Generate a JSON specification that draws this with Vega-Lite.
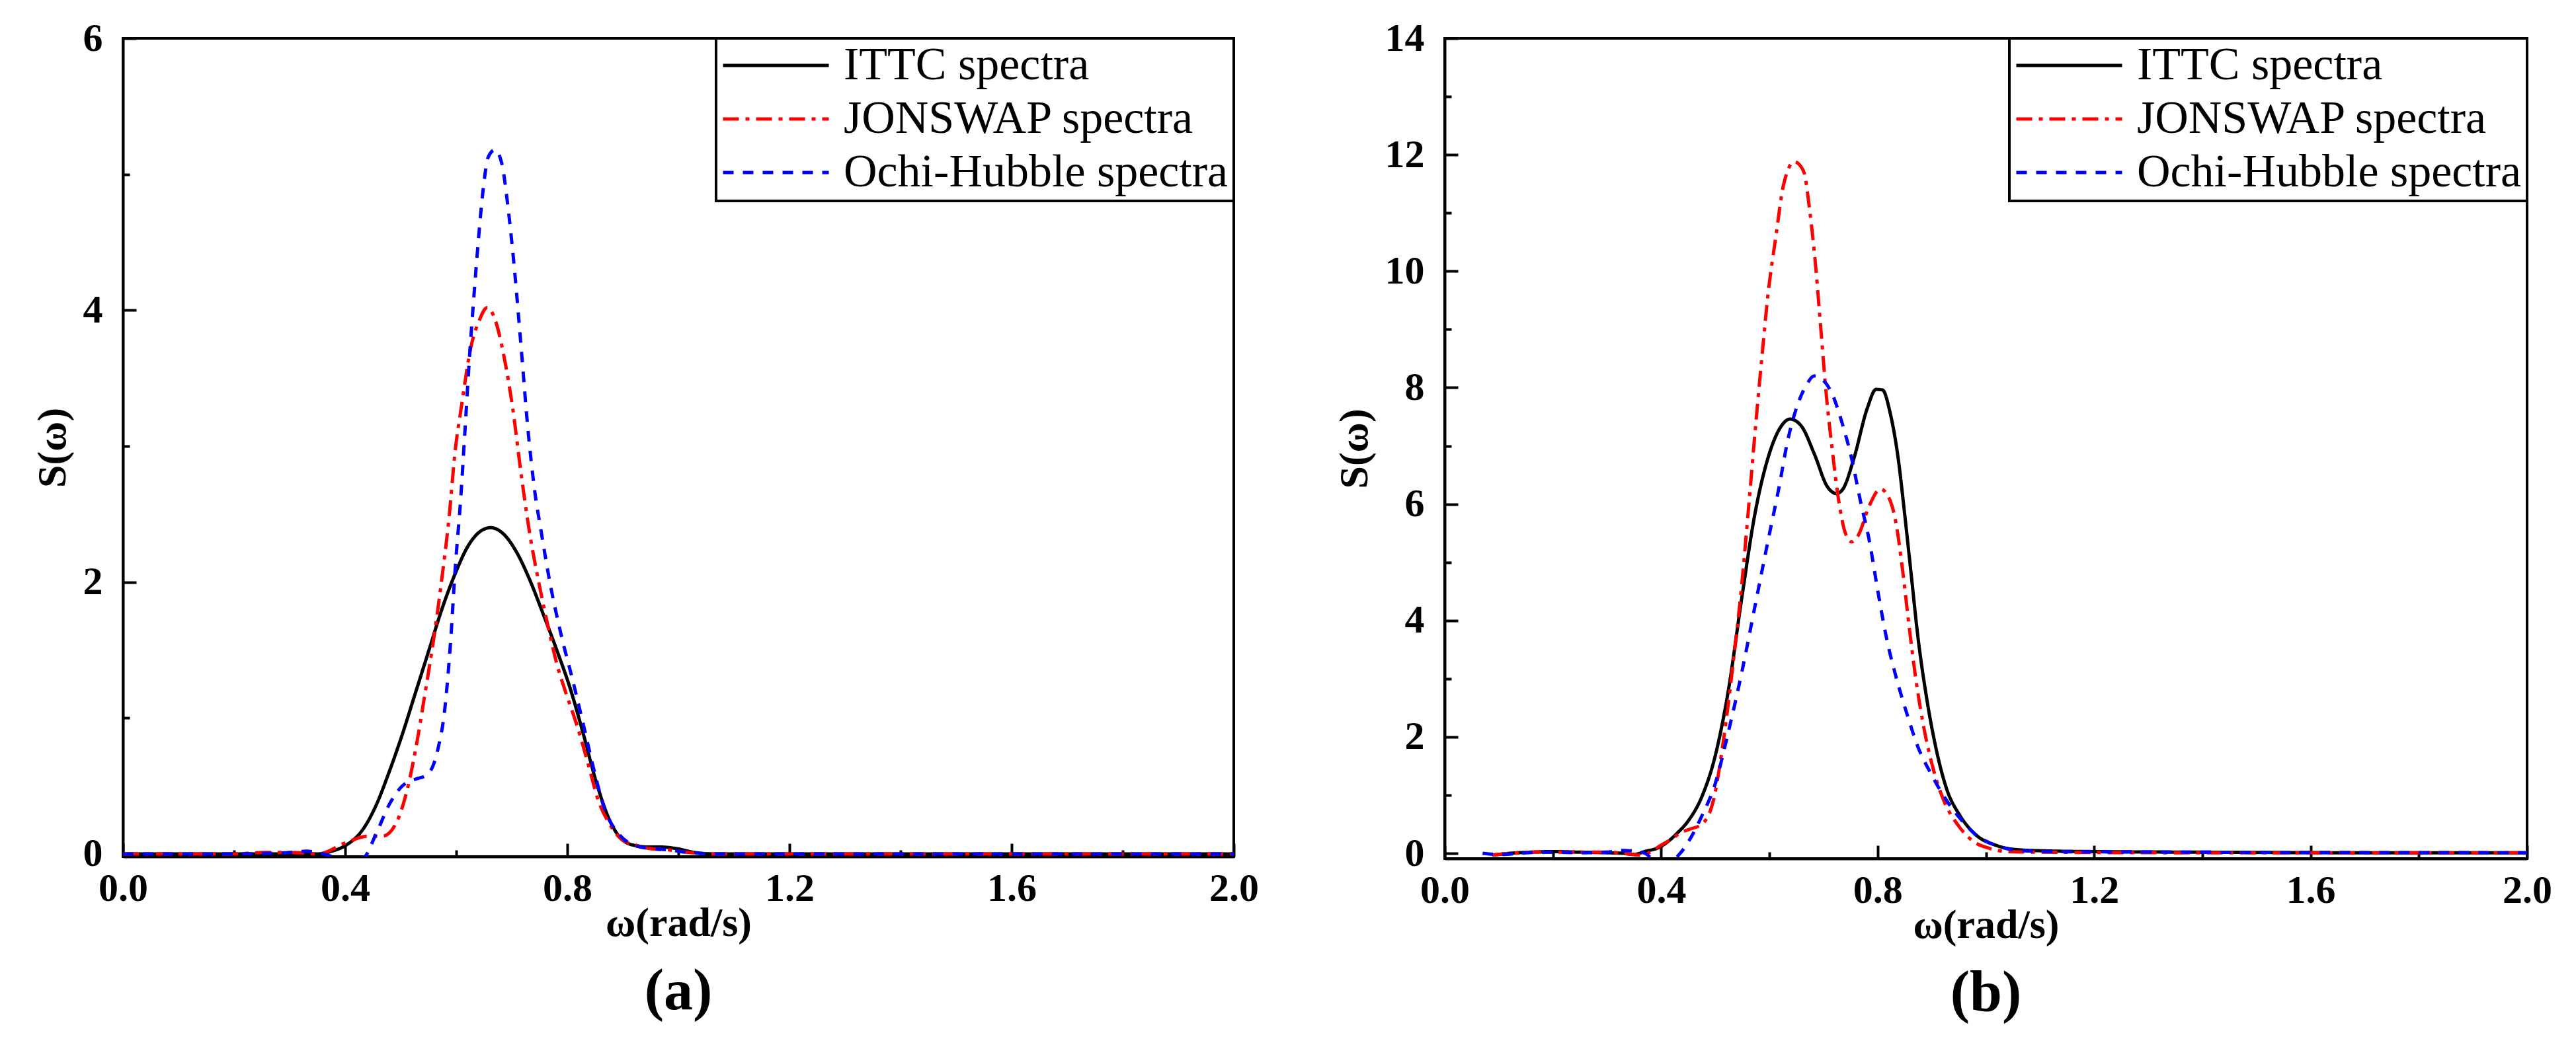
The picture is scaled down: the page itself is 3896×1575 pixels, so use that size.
{
  "$schema": "https://vega.github.io/schema/vega-lite/v6.json",
  "background": "white",
  "padding": {"left": 46, "top": 26, "right": 0, "bottom": 0},
  "spacing": 109,
  "resolve": {"scale": {"color": "independent", "strokeDash": "independent"}, "legend": {"color": "independent", "strokeDash": "independent"}},
  "datasets": {
    "a": [
      {"omega": 0, "S": 0, "series": "ITTC spectra"},
      {"omega": 0.1, "S": 0, "series": "ITTC spectra"},
      {"omega": 0.2, "S": 0, "series": "ITTC spectra"},
      {"omega": 0.3, "S": 0, "series": "ITTC spectra"},
      {"omega": 0.352, "S": 0, "series": "ITTC spectra"},
      {"omega": 0.376, "S": 0.02, "series": "ITTC spectra"},
      {"omega": 0.4, "S": 0.06, "series": "ITTC spectra"},
      {"omega": 0.432, "S": 0.18, "series": "ITTC spectra"},
      {"omega": 0.456, "S": 0.36, "series": "ITTC spectra"},
      {"omega": 0.479, "S": 0.6, "series": "ITTC spectra"},
      {"omega": 0.503, "S": 0.88, "series": "ITTC spectra"},
      {"omega": 0.527, "S": 1.19, "series": "ITTC spectra"},
      {"omega": 0.551, "S": 1.5, "series": "ITTC spectra"},
      {"omega": 0.575, "S": 1.81, "series": "ITTC spectra"},
      {"omega": 0.598, "S": 2.06, "series": "ITTC spectra"},
      {"omega": 0.622, "S": 2.27, "series": "ITTC spectra"},
      {"omega": 0.646, "S": 2.38, "series": "ITTC spectra"},
      {"omega": 0.662, "S": 2.4, "series": "ITTC spectra"},
      {"omega": 0.686, "S": 2.35, "series": "ITTC spectra"},
      {"omega": 0.71, "S": 2.21, "series": "ITTC spectra"},
      {"omega": 0.733, "S": 2.01, "series": "ITTC spectra"},
      {"omega": 0.757, "S": 1.76, "series": "ITTC spectra"},
      {"omega": 0.781, "S": 1.5, "series": "ITTC spectra"},
      {"omega": 0.805, "S": 1.22, "series": "ITTC spectra"},
      {"omega": 0.829, "S": 0.88, "series": "ITTC spectra"},
      {"omega": 0.852, "S": 0.53, "series": "ITTC spectra"},
      {"omega": 0.876, "S": 0.25, "series": "ITTC spectra"},
      {"omega": 0.9, "S": 0.1, "series": "ITTC spectra"},
      {"omega": 0.924, "S": 0.06, "series": "ITTC spectra"},
      {"omega": 0.948, "S": 0.05, "series": "ITTC spectra"},
      {"omega": 0.97, "S": 0.05, "series": "ITTC spectra"},
      {"omega": 0.995, "S": 0.04, "series": "ITTC spectra"},
      {"omega": 1.03, "S": 0.01, "series": "ITTC spectra"},
      {"omega": 1.06, "S": 0, "series": "ITTC spectra"},
      {"omega": 1.5, "S": 0, "series": "ITTC spectra"},
      {"omega": 2.0, "S": 0, "series": "ITTC spectra"},
      {"omega": 0, "S": 0, "series": "JONSWAP spectra"},
      {"omega": 0.1, "S": 0, "series": "JONSWAP spectra"},
      {"omega": 0.2, "S": 0, "series": "JONSWAP spectra"},
      {"omega": 0.25, "S": 0.01, "series": "JONSWAP spectra"},
      {"omega": 0.3, "S": 0.01, "series": "JONSWAP spectra"},
      {"omega": 0.352, "S": 0, "series": "JONSWAP spectra"},
      {"omega": 0.4, "S": 0.08, "series": "JONSWAP spectra"},
      {"omega": 0.44, "S": 0.13, "series": "JONSWAP spectra"},
      {"omega": 0.467, "S": 0.13, "series": "JONSWAP spectra"},
      {"omega": 0.491, "S": 0.22, "series": "JONSWAP spectra"},
      {"omega": 0.511, "S": 0.46, "series": "JONSWAP spectra"},
      {"omega": 0.527, "S": 0.77, "series": "JONSWAP spectra"},
      {"omega": 0.543, "S": 1.16, "series": "JONSWAP spectra"},
      {"omega": 0.559, "S": 1.57, "series": "JONSWAP spectra"},
      {"omega": 0.573, "S": 1.99, "series": "JONSWAP spectra"},
      {"omega": 0.587, "S": 2.47, "series": "JONSWAP spectra"},
      {"omega": 0.598, "S": 2.96, "series": "JONSWAP spectra"},
      {"omega": 0.61, "S": 3.31, "series": "JONSWAP spectra"},
      {"omega": 0.626, "S": 3.72, "series": "JONSWAP spectra"},
      {"omega": 0.642, "S": 3.93, "series": "JONSWAP spectra"},
      {"omega": 0.656, "S": 4.02, "series": "JONSWAP spectra"},
      {"omega": 0.67, "S": 3.93, "series": "JONSWAP spectra"},
      {"omega": 0.686, "S": 3.66, "series": "JONSWAP spectra"},
      {"omega": 0.702, "S": 3.27, "series": "JONSWAP spectra"},
      {"omega": 0.717, "S": 2.79, "series": "JONSWAP spectra"},
      {"omega": 0.733, "S": 2.34, "series": "JONSWAP spectra"},
      {"omega": 0.749, "S": 1.99, "series": "JONSWAP spectra"},
      {"omega": 0.765, "S": 1.68, "series": "JONSWAP spectra"},
      {"omega": 0.781, "S": 1.4, "series": "JONSWAP spectra"},
      {"omega": 0.797, "S": 1.19, "series": "JONSWAP spectra"},
      {"omega": 0.817, "S": 0.95, "series": "JONSWAP spectra"},
      {"omega": 0.837, "S": 0.67, "series": "JONSWAP spectra"},
      {"omega": 0.856, "S": 0.39, "series": "JONSWAP spectra"},
      {"omega": 0.876, "S": 0.22, "series": "JONSWAP spectra"},
      {"omega": 0.9, "S": 0.1, "series": "JONSWAP spectra"},
      {"omega": 0.928, "S": 0.06, "series": "JONSWAP spectra"},
      {"omega": 0.948, "S": 0.04, "series": "JONSWAP spectra"},
      {"omega": 0.98, "S": 0.03, "series": "JONSWAP spectra"},
      {"omega": 1.02, "S": 0.01, "series": "JONSWAP spectra"},
      {"omega": 1.06, "S": 0, "series": "JONSWAP spectra"},
      {"omega": 1.5, "S": 0, "series": "JONSWAP spectra"},
      {"omega": 2.0, "S": 0, "series": "JONSWAP spectra"},
      {"omega": 0, "S": 0, "series": "Ochi-Hubble spectra"},
      {"omega": 0.1, "S": 0, "series": "Ochi-Hubble spectra"},
      {"omega": 0.2, "S": 0, "series": "Ochi-Hubble spectra"},
      {"omega": 0.3, "S": 0.01, "series": "Ochi-Hubble spectra"},
      {"omega": 0.33, "S": 0.02, "series": "Ochi-Hubble spectra"},
      {"omega": 0.36, "S": 0, "series": "Ochi-Hubble spectra"},
      {"omega": 0.4, "S": -0.04, "series": "Ochi-Hubble spectra"},
      {"omega": 0.432, "S": -0.03, "series": "Ochi-Hubble spectra"},
      {"omega": 0.456, "S": 0.15, "series": "Ochi-Hubble spectra"},
      {"omega": 0.479, "S": 0.36, "series": "Ochi-Hubble spectra"},
      {"omega": 0.503, "S": 0.5, "series": "Ochi-Hubble spectra"},
      {"omega": 0.527, "S": 0.55, "series": "Ochi-Hubble spectra"},
      {"omega": 0.547, "S": 0.58, "series": "Ochi-Hubble spectra"},
      {"omega": 0.567, "S": 0.77, "series": "Ochi-Hubble spectra"},
      {"omega": 0.579, "S": 1.05, "series": "Ochi-Hubble spectra"},
      {"omega": 0.59, "S": 1.57, "series": "Ochi-Hubble spectra"},
      {"omega": 0.598, "S": 2.09, "series": "Ochi-Hubble spectra"},
      {"omega": 0.608, "S": 2.61, "series": "Ochi-Hubble spectra"},
      {"omega": 0.616, "S": 3.13, "series": "Ochi-Hubble spectra"},
      {"omega": 0.624, "S": 3.66, "series": "Ochi-Hubble spectra"},
      {"omega": 0.632, "S": 4.11, "series": "Ochi-Hubble spectra"},
      {"omega": 0.64, "S": 4.52, "series": "Ochi-Hubble spectra"},
      {"omega": 0.648, "S": 4.87, "series": "Ochi-Hubble spectra"},
      {"omega": 0.658, "S": 5.13, "series": "Ochi-Hubble spectra"},
      {"omega": 0.67, "S": 5.18, "series": "Ochi-Hubble spectra"},
      {"omega": 0.682, "S": 5.08, "series": "Ochi-Hubble spectra"},
      {"omega": 0.694, "S": 4.73, "series": "Ochi-Hubble spectra"},
      {"omega": 0.706, "S": 4.25, "series": "Ochi-Hubble spectra"},
      {"omega": 0.717, "S": 3.72, "series": "Ochi-Hubble spectra"},
      {"omega": 0.729, "S": 3.13, "series": "Ochi-Hubble spectra"},
      {"omega": 0.741, "S": 2.68, "series": "Ochi-Hubble spectra"},
      {"omega": 0.753, "S": 2.37, "series": "Ochi-Hubble spectra"},
      {"omega": 0.769, "S": 1.99, "series": "Ochi-Hubble spectra"},
      {"omega": 0.789, "S": 1.61, "series": "Ochi-Hubble spectra"},
      {"omega": 0.809, "S": 1.29, "series": "Ochi-Hubble spectra"},
      {"omega": 0.829, "S": 0.95, "series": "Ochi-Hubble spectra"},
      {"omega": 0.849, "S": 0.6, "series": "Ochi-Hubble spectra"},
      {"omega": 0.868, "S": 0.32, "series": "Ochi-Hubble spectra"},
      {"omega": 0.892, "S": 0.15, "series": "Ochi-Hubble spectra"},
      {"omega": 0.916, "S": 0.07, "series": "Ochi-Hubble spectra"},
      {"omega": 0.948, "S": 0.04, "series": "Ochi-Hubble spectra"},
      {"omega": 0.98, "S": 0.03, "series": "Ochi-Hubble spectra"},
      {"omega": 1.02, "S": 0.01, "series": "Ochi-Hubble spectra"},
      {"omega": 1.06, "S": 0, "series": "Ochi-Hubble spectra"},
      {"omega": 1.5, "S": 0, "series": "Ochi-Hubble spectra"},
      {"omega": 2.0, "S": 0, "series": "Ochi-Hubble spectra"}
    ],
    "b": [
      {"omega": 0.088, "S": -0.03, "series": "ITTC spectra"},
      {"omega": 0.12, "S": 0, "series": "ITTC spectra"},
      {"omega": 0.16, "S": 0.02, "series": "ITTC spectra"},
      {"omega": 0.2, "S": 0.03, "series": "ITTC spectra"},
      {"omega": 0.25, "S": 0.02, "series": "ITTC spectra"},
      {"omega": 0.3, "S": 0.01, "series": "ITTC spectra"},
      {"omega": 0.33, "S": 0, "series": "ITTC spectra"},
      {"omega": 0.35, "S": -0.02, "series": "ITTC spectra"},
      {"omega": 0.369, "S": 0.03, "series": "ITTC spectra"},
      {"omega": 0.398, "S": 0.11, "series": "ITTC spectra"},
      {"omega": 0.43, "S": 0.35, "series": "ITTC spectra"},
      {"omega": 0.451, "S": 0.57, "series": "ITTC spectra"},
      {"omega": 0.475, "S": 0.97, "series": "ITTC spectra"},
      {"omega": 0.5, "S": 1.68, "series": "ITTC spectra"},
      {"omega": 0.524, "S": 2.79, "series": "ITTC spectra"},
      {"omega": 0.549, "S": 4.39, "series": "ITTC spectra"},
      {"omega": 0.573, "S": 5.82, "series": "ITTC spectra"},
      {"omega": 0.597, "S": 6.78, "series": "ITTC spectra"},
      {"omega": 0.622, "S": 7.34, "series": "ITTC spectra"},
      {"omega": 0.638, "S": 7.46, "series": "ITTC spectra"},
      {"omega": 0.659, "S": 7.34, "series": "ITTC spectra"},
      {"omega": 0.683, "S": 6.86, "series": "ITTC spectra"},
      {"omega": 0.707, "S": 6.3, "series": "ITTC spectra"},
      {"omega": 0.724, "S": 6.18, "series": "ITTC spectra"},
      {"omega": 0.736, "S": 6.26, "series": "ITTC spectra"},
      {"omega": 0.756, "S": 6.78, "series": "ITTC spectra"},
      {"omega": 0.781, "S": 7.65, "series": "ITTC spectra"},
      {"omega": 0.797, "S": 7.97, "series": "ITTC spectra"},
      {"omega": 0.809, "S": 7.96, "series": "ITTC spectra"},
      {"omega": 0.823, "S": 7.57, "series": "ITTC spectra"},
      {"omega": 0.838, "S": 6.78, "series": "ITTC spectra"},
      {"omega": 0.85, "S": 5.82, "series": "ITTC spectra"},
      {"omega": 0.862, "S": 4.79, "series": "ITTC spectra"},
      {"omega": 0.874, "S": 3.75, "series": "ITTC spectra"},
      {"omega": 0.891, "S": 2.64, "series": "ITTC spectra"},
      {"omega": 0.907, "S": 1.84, "series": "ITTC spectra"},
      {"omega": 0.927, "S": 1.12, "series": "ITTC spectra"},
      {"omega": 0.952, "S": 0.65, "series": "ITTC spectra"},
      {"omega": 0.98, "S": 0.33, "series": "ITTC spectra"},
      {"omega": 1.021, "S": 0.13, "series": "ITTC spectra"},
      {"omega": 1.062, "S": 0.06, "series": "ITTC spectra"},
      {"omega": 1.12, "S": 0.04, "series": "ITTC spectra"},
      {"omega": 1.2, "S": 0.03, "series": "ITTC spectra"},
      {"omega": 1.4, "S": 0.02, "series": "ITTC spectra"},
      {"omega": 1.7, "S": 0.01, "series": "ITTC spectra"},
      {"omega": 2.0, "S": 0.01, "series": "ITTC spectra"},
      {"omega": 0.088, "S": -0.03, "series": "JONSWAP spectra"},
      {"omega": 0.12, "S": 0, "series": "JONSWAP spectra"},
      {"omega": 0.16, "S": 0.02, "series": "JONSWAP spectra"},
      {"omega": 0.2, "S": 0.02, "series": "JONSWAP spectra"},
      {"omega": 0.25, "S": 0.02, "series": "JONSWAP spectra"},
      {"omega": 0.3, "S": 0.02, "series": "JONSWAP spectra"},
      {"omega": 0.34, "S": -0.01, "series": "JONSWAP spectra"},
      {"omega": 0.36, "S": -0.03, "series": "JONSWAP spectra"},
      {"omega": 0.38, "S": 0.02, "series": "JONSWAP spectra"},
      {"omega": 0.398, "S": 0.13, "series": "JONSWAP spectra"},
      {"omega": 0.42, "S": 0.25, "series": "JONSWAP spectra"},
      {"omega": 0.435, "S": 0.35, "series": "JONSWAP spectra"},
      {"omega": 0.451, "S": 0.41, "series": "JONSWAP spectra"},
      {"omega": 0.475, "S": 0.5, "series": "JONSWAP spectra"},
      {"omega": 0.496, "S": 0.89, "series": "JONSWAP spectra"},
      {"omega": 0.516, "S": 2.0, "series": "JONSWAP spectra"},
      {"omega": 0.532, "S": 3.19, "series": "JONSWAP spectra"},
      {"omega": 0.549, "S": 4.63, "series": "JONSWAP spectra"},
      {"omega": 0.563, "S": 6.1, "series": "JONSWAP spectra"},
      {"omega": 0.575, "S": 7.4, "series": "JONSWAP spectra"},
      {"omega": 0.587, "S": 8.61, "series": "JONSWAP spectra"},
      {"omega": 0.597, "S": 9.57, "series": "JONSWAP spectra"},
      {"omega": 0.612, "S": 10.6, "series": "JONSWAP spectra"},
      {"omega": 0.626, "S": 11.48, "series": "JONSWAP spectra"},
      {"omega": 0.646, "S": 11.88, "series": "JONSWAP spectra"},
      {"omega": 0.663, "S": 11.72, "series": "JONSWAP spectra"},
      {"omega": 0.675, "S": 11.0, "series": "JONSWAP spectra"},
      {"omega": 0.685, "S": 10.13, "series": "JONSWAP spectra"},
      {"omega": 0.695, "S": 9.01, "series": "JONSWAP spectra"},
      {"omega": 0.705, "S": 7.89, "series": "JONSWAP spectra"},
      {"omega": 0.716, "S": 6.94, "series": "JONSWAP spectra"},
      {"omega": 0.728, "S": 6.06, "series": "JONSWAP spectra"},
      {"omega": 0.74, "S": 5.51, "series": "JONSWAP spectra"},
      {"omega": 0.752, "S": 5.35, "series": "JONSWAP spectra"},
      {"omega": 0.764, "S": 5.46, "series": "JONSWAP spectra"},
      {"omega": 0.785, "S": 5.98, "series": "JONSWAP spectra"},
      {"omega": 0.805, "S": 6.26, "series": "JONSWAP spectra"},
      {"omega": 0.819, "S": 6.14, "series": "JONSWAP spectra"},
      {"omega": 0.834, "S": 5.67, "series": "JONSWAP spectra"},
      {"omega": 0.846, "S": 4.87, "series": "JONSWAP spectra"},
      {"omega": 0.858, "S": 3.91, "series": "JONSWAP spectra"},
      {"omega": 0.87, "S": 3.03, "series": "JONSWAP spectra"},
      {"omega": 0.887, "S": 2.08, "series": "JONSWAP spectra"},
      {"omega": 0.903, "S": 1.44, "series": "JONSWAP spectra"},
      {"omega": 0.923, "S": 0.89, "series": "JONSWAP spectra"},
      {"omega": 0.948, "S": 0.49, "series": "JONSWAP spectra"},
      {"omega": 0.976, "S": 0.21, "series": "JONSWAP spectra"},
      {"omega": 1.005, "S": 0.09, "series": "JONSWAP spectra"},
      {"omega": 1.041, "S": 0.03, "series": "JONSWAP spectra"},
      {"omega": 1.1, "S": 0.02, "series": "JONSWAP spectra"},
      {"omega": 1.4, "S": 0.01, "series": "JONSWAP spectra"},
      {"omega": 2.0, "S": 0.01, "series": "JONSWAP spectra"},
      {"omega": 0.07, "S": 0, "series": "Ochi-Hubble spectra"},
      {"omega": 0.1, "S": -0.02, "series": "Ochi-Hubble spectra"},
      {"omega": 0.15, "S": 0.01, "series": "Ochi-Hubble spectra"},
      {"omega": 0.2, "S": 0.02, "series": "Ochi-Hubble spectra"},
      {"omega": 0.25, "S": 0.01, "series": "Ochi-Hubble spectra"},
      {"omega": 0.3, "S": 0.02, "series": "Ochi-Hubble spectra"},
      {"omega": 0.33, "S": 0.05, "series": "Ochi-Hubble spectra"},
      {"omega": 0.35, "S": 0.04, "series": "Ochi-Hubble spectra"},
      {"omega": 0.37, "S": 0, "series": "Ochi-Hubble spectra"},
      {"omega": 0.39, "S": -0.12, "series": "Ochi-Hubble spectra"},
      {"omega": 0.42, "S": -0.12, "series": "Ochi-Hubble spectra"},
      {"omega": 0.435, "S": 0, "series": "Ochi-Hubble spectra"},
      {"omega": 0.451, "S": 0.21, "series": "Ochi-Hubble spectra"},
      {"omega": 0.475, "S": 0.64, "series": "Ochi-Hubble spectra"},
      {"omega": 0.5, "S": 1.2, "series": "Ochi-Hubble spectra"},
      {"omega": 0.524, "S": 2.08, "series": "Ochi-Hubble spectra"},
      {"omega": 0.549, "S": 3.11, "series": "Ochi-Hubble spectra"},
      {"omega": 0.573, "S": 4.23, "series": "Ochi-Hubble spectra"},
      {"omega": 0.597, "S": 5.35, "series": "Ochi-Hubble spectra"},
      {"omega": 0.618, "S": 6.3, "series": "Ochi-Hubble spectra"},
      {"omega": 0.634, "S": 7.1, "series": "Ochi-Hubble spectra"},
      {"omega": 0.65, "S": 7.65, "series": "Ochi-Hubble spectra"},
      {"omega": 0.667, "S": 8.02, "series": "Ochi-Hubble spectra"},
      {"omega": 0.683, "S": 8.2, "series": "Ochi-Hubble spectra"},
      {"omega": 0.699, "S": 8.13, "series": "Ochi-Hubble spectra"},
      {"omega": 0.716, "S": 7.89, "series": "Ochi-Hubble spectra"},
      {"omega": 0.736, "S": 7.34, "series": "Ochi-Hubble spectra"},
      {"omega": 0.752, "S": 6.78, "series": "Ochi-Hubble spectra"},
      {"omega": 0.768, "S": 6.06, "series": "Ochi-Hubble spectra"},
      {"omega": 0.785, "S": 5.35, "series": "Ochi-Hubble spectra"},
      {"omega": 0.801, "S": 4.47, "series": "Ochi-Hubble spectra"},
      {"omega": 0.817, "S": 3.67, "series": "Ochi-Hubble spectra"},
      {"omega": 0.834, "S": 3.03, "series": "Ochi-Hubble spectra"},
      {"omega": 0.854, "S": 2.4, "series": "Ochi-Hubble spectra"},
      {"omega": 0.874, "S": 1.84, "series": "Ochi-Hubble spectra"},
      {"omega": 0.899, "S": 1.36, "series": "Ochi-Hubble spectra"},
      {"omega": 0.923, "S": 0.97, "series": "Ochi-Hubble spectra"},
      {"omega": 0.948, "S": 0.65, "series": "Ochi-Hubble spectra"},
      {"omega": 0.98, "S": 0.33, "series": "Ochi-Hubble spectra"},
      {"omega": 1.021, "S": 0.13, "series": "Ochi-Hubble spectra"},
      {"omega": 1.062, "S": 0.05, "series": "Ochi-Hubble spectra"},
      {"omega": 1.12, "S": 0.03, "series": "Ochi-Hubble spectra"},
      {"omega": 1.4, "S": 0.02, "series": "Ochi-Hubble spectra"},
      {"omega": 2.0, "S": 0.01, "series": "Ochi-Hubble spectra"}
    ]
  },
  "hconcat": [
    {
      "width": 1680,
      "height": 1238,
      "data": {"name": "a"},
      "title": {"text": "(a)", "orient": "bottom", "anchor": "middle", "offset": 30},
      "mark": {"type": "line", "strokeWidth": 5, "interpolate": "monotone", "clip": true},
      "encoding": {
        "x": {
          "field": "omega", "type": "quantitative",
          "scale": {"domain": [0, 2], "nice": false},
          "axis": {
            "title": "ω(rad/s)",
            "values": [0, 0.2, 0.4, 0.6, 0.8, 1.0, 1.2, 1.4, 1.6, 1.8, 2.0],
            "labelExpr": "round(datum.value * 10) % 4 == 0 ? format(datum.value, '.1f') : ''",
            "tickSize": {"condition": {"test": "round(datum.value * 10) % 4 == 0", "value": -20}, "value": -10},
            "labelPadding": 39,
            "titlePadding": -18
          }
        },
        "y": {
          "field": "S", "type": "quantitative",
          "scale": {"domain": [-0.02, 6], "nice": false, "zero": false},
          "axis": {
            "title": "S(ω)",
            "values": [0, 1, 2, 3, 4, 5, 6],
            "labelExpr": "datum.value % 2 == 0 ? format(datum.value, 'd') : ''",
            "tickSize": {"condition": {"test": "datum.value % 2 == 0", "value": -20}, "value": -10},
            "labelPadding": 51,
            "titlePadding": 14
          }
        },
        "color": {
          "field": "series", "type": "nominal",
          "scale": {"domain": ["ITTC spectra", "JONSWAP spectra", "Ochi-Hubble spectra"], "range": ["#000000", "#ff0000", "#0000ff"]},
          "legend": {"title": null, "orient": "top-right", "offset": 0}
        },
        "strokeDash": {
          "field": "series", "type": "nominal",
          "scale": {"domain": ["ITTC spectra", "JONSWAP spectra", "Ochi-Hubble spectra"], "range": [[1, 0], [24, 10, 6, 10], [16, 14]]},
          "legend": {"title": null, "orient": "top-right", "offset": 0}
        }
      }
    },
    {
      "width": 1637,
      "height": 1241,
      "data": {"name": "b"},
      "title": {"text": "(b)", "orient": "bottom", "anchor": "middle", "offset": 30},
      "mark": {"type": "line", "strokeWidth": 5, "interpolate": "monotone", "clip": true},
      "encoding": {
        "x": {
          "field": "omega", "type": "quantitative",
          "scale": {"domain": [0, 2], "nice": false},
          "axis": {
            "title": "ω(rad/s)",
            "values": [0, 0.2, 0.4, 0.6, 0.8, 1.0, 1.2, 1.4, 1.6, 1.8, 2.0],
            "labelExpr": "round(datum.value * 10) % 4 == 0 ? format(datum.value, '.1f') : ''",
            "tickSize": {"condition": {"test": "round(datum.value * 10) % 4 == 0", "value": -20}, "value": -10},
            "labelPadding": 39,
            "titlePadding": -18
          }
        },
        "y": {
          "field": "S", "type": "quantitative",
          "scale": {"domain": [-0.09, 14], "nice": false, "zero": false},
          "axis": {
            "title": "S(ω)",
            "values": [0, 1, 2, 3, 4, 5, 6, 7, 8, 9, 10, 11, 12, 13, 14],
            "labelExpr": "datum.value % 2 == 0 ? format(datum.value, 'd') : ''",
            "tickSize": {"condition": {"test": "datum.value % 2 == 0", "value": -20}, "value": -10},
            "labelPadding": 51,
            "titlePadding": 14
          }
        },
        "color": {
          "field": "series", "type": "nominal",
          "scale": {"domain": ["ITTC spectra", "JONSWAP spectra", "Ochi-Hubble spectra"], "range": ["#000000", "#ff0000", "#0000ff"]},
          "legend": {"title": null, "orient": "top-right", "offset": 0}
        },
        "strokeDash": {
          "field": "series", "type": "nominal",
          "scale": {"domain": ["ITTC spectra", "JONSWAP spectra", "Ochi-Hubble spectra"], "range": [[1, 0], [24, 10, 6, 10], [16, 14]]},
          "legend": {"title": null, "orient": "top-right", "offset": 0}
        }
      }
    }
  ],
  "config": {
    "view": {"stroke": "black", "strokeWidth": 4},
    "font": "Liberation Serif",
    "axis": {
      "grid": false,
      "domainColor": "black",
      "domainWidth": 4,
      "tickColor": "black",
      "tickWidth": 4,
      "labelFont": "Liberation Serif",
      "labelFontSize": 60,
      "labelFontWeight": "bold",
      "labelColor": "black",
      "labelFlush": false,
      "labelOverlap": false,
      "titleFont": "Liberation Serif",
      "titleFontSize": 62,
      "titleFontWeight": "bold",
      "titleColor": "black"
    },
    "legend": {
      "symbolType": "stroke",
      "symbolSize": 25600,
      "symbolStrokeWidth": 5,
      "labelFont": "Liberation Serif",
      "labelFontSize": 70,
      "labelColor": "black",
      "labelLimit": 0,
      "labelOffset": 20,
      "clipHeight": 66,
      "rowPadding": 11,
      "padding": 8,
      "strokeColor": "black",
      "strokeWidth": 4,
      "fillColor": "white",
      "cornerRadius": 0
    },
    "title": {
      "font": "Liberation Serif",
      "fontSize": 88,
      "fontWeight": "bold",
      "color": "black"
    }
  }
}
